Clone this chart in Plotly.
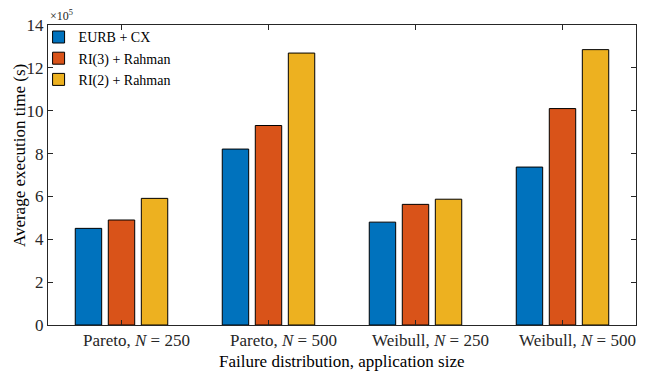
import plotly.graph_objects as go

categories = ["Pareto, <i>N</i> = 250", "Pareto, <i>N</i> = 500",
              "Weibull, <i>N</i> = 250", "Weibull, <i>N</i> = 500"]
series_names = ["EURB + CX", "RI(3) + Rahman", "RI(2) + Rahman"]
# values in units of 1e5 seconds
eurb_cx = [4.51, 8.21, 4.80, 7.37]
ri3_rahman = [4.90, 9.31, 5.63, 10.10]
ri2_rahman = [5.91, 12.69, 5.87, 12.85]
colors = ["#0072BD", "#D95319", "#EDB120"]
y_ticks = [0, 2, 4, 6, 8, 10, 12, 14]

FONT = "Liberation Serif"
AX = "#262626"

x_pos = list(range(len(categories)))
fig = go.Figure()
for name, vals, col in zip(series_names, [eurb_cx, ri3_rahman, ri2_rahman], colors):
    fig.add_trace(go.Bar(x=x_pos, y=vals, name=name,
                         marker=dict(color=col, line=dict(color="black", width=1))))

fig.update_layout(
    width=646, height=371,
    margin=dict(l=48, r=10, t=25, b=46, autoexpand=False),
    paper_bgcolor="white", plot_bgcolor="white",
    barmode="group", bargap=0.326, bargroupgap=0.2,
    font=dict(family=FONT, color=AX, size=16),
    showlegend=True,
    legend=dict(x=-0.016, y=1.012, xanchor="left", yanchor="top",
                bgcolor="rgba(255,255,255,0)", borderwidth=0,
                font=dict(family=FONT, size=14, color="black"),
                itemwidth=30, tracegroupgap=0),
)
fig.update_xaxes(
    range=[-0.5, 3.5], tickvals=x_pos, ticktext=categories, automargin=False,
    showline=True, linecolor=AX, linewidth=1, mirror="ticks",
    ticks="inside", ticklen=5, tickcolor=AX, showgrid=False, zeroline=False,
    tickfont=dict(family=FONT, size=17, color=AX),
    ticklabelshift=15, ticklabelstandoff=0,
)
fig.update_yaxes(
    range=[0, 14], tickvals=y_ticks, ticktext=[str(v) for v in y_ticks], automargin=False,
    showline=True, linecolor=AX, linewidth=1, mirror="ticks",
    ticks="inside", ticklen=5, tickcolor=AX, showgrid=False, zeroline=False,
    tickfont=dict(family=FONT, size=17, color=AX),
)
fig.add_annotation(text="Failure distribution, application size", xref="paper", yref="paper",
                   x=0.5, y=0.0, xanchor="center", yanchor="middle",
                   yshift=-36, showarrow=False,
                   font=dict(family=FONT, size=17, color="black"))
fig.add_annotation(text="Average execution time (s)", xref="paper", yref="paper",
                   x=0.0, y=0.563, xanchor="center", yanchor="middle",
                   xshift=-29, textangle=-90, showarrow=False,
                   font=dict(family=FONT, size=17, color="black"))
fig.add_annotation(text="×10<sup>5</sup>", xref="paper", yref="paper",
                   x=0.0, y=1.0, xanchor="left", yanchor="bottom",
                   showarrow=False, font=dict(family=FONT, size=12, color=AX))
fig.write_html("out.html")
